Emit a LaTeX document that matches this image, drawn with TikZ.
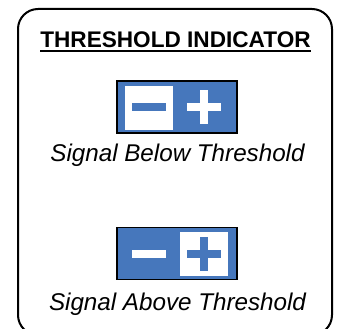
\documentclass[tikz,border=0pt]{standalone}
\usepackage{fontspec}
\setmainfont{Liberation Sans}
\usepackage{xcolor}
\usetikzlibrary{calc, positioning}
\definecolor{lampblue}{RGB}{70,119,188}

\begin{document}
\begin{tikzpicture}[x=1pt, y=-1pt,
  panel/.style={draw, line width=1.6pt, fill=lampblue, minimum width=120pt, minimum height=52pt, inner sep=0pt},
  lamp/.style={fill=white, minimum width=48pt, minimum height=44pt, inner sep=0pt},
  bar/.style={minimum width=34pt, minimum height=8pt, inner sep=0pt},
  vbar/.style={minimum width=8pt, minimum height=34pt, inner sep=0pt},
  caption/.style={font=\fontsize{24.2}{27}\selectfont\itshape, inner sep=0pt}]
\useasboundingbox (0,0) rectangle (338,329);
\draw[line width=2pt, rounded corners=20pt] (18,9) rectangle (332,335);
\node[font=\fontsize{22.6}{26}\selectfont\bfseries, inner sep=0pt, anchor=base] (title) at (175.5,48) {THRESHOLD INDICATOR};
\draw[line width=1.8pt] ([yshift=-2.5pt]title.south west) -- ([yshift=-2.5pt]title.south east);
% below threshold
\node[panel] (lowbox) at (177,107) {};
\node[lamp] (lowlamp) at (149,108) {};
\node[bar, fill=lampblue] (lowminus) at (149,107) {};
\node[bar, fill=white] (lowplush) at (204,107) {};
\node[vbar, fill=white] (lowplusv) at (204,107) {};
\node[caption, anchor=base] (lowtext) at (177.5,162) {Signal Below Threshold};
% above threshold
\node[panel] (highbox) at (177,253.5) {};
\node[lamp] (highlamp) at (204,253.5) {};
\node[bar, fill=white] (highminus) at (149,253.5) {};
\node[bar, fill=lampblue] (highplush) at (204,253.5) {};
\node[vbar, fill=lampblue] (highplusv) at (204,253.5) {};
\node[caption, anchor=base] (hightext) at (177.5,310) {Signal Above Threshold};
\end{tikzpicture}
\end{document}
